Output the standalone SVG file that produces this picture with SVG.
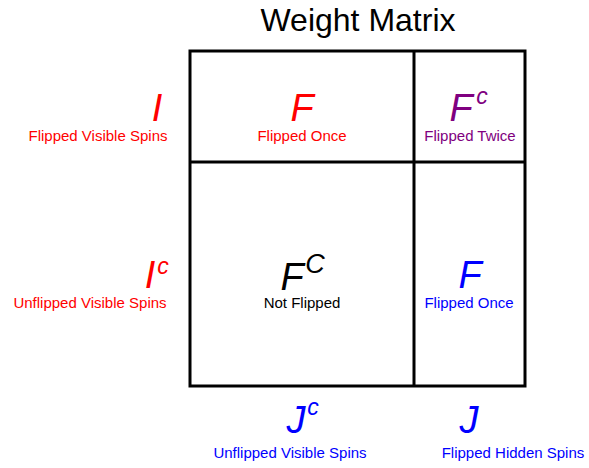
<svg xmlns="http://www.w3.org/2000/svg" width="589" height="468" viewBox="0 0 589 468">
<style>
text{font-family:"Liberation Sans",Arial,sans-serif;text-anchor:middle}
.big{font-size:38px;font-style:italic}
.sup{font-size:23px;font-style:italic}
.lbl{font-size:15px}
.r{fill:#ff0000}.b{fill:#0000ff}.p{fill:#800080}.k{fill:#000}
.grid{fill:none;stroke:#000;stroke-width:3}
</style>
<rect width="589" height="468" fill="#fff"/>
<text x="358" y="31" style="font-size:32px" class="k">Weight Matrix</text>
<g id="grid">
<rect class="grid" x="190" y="51" width="335" height="335"/>
<line class="grid" x1="414" y1="51" x2="414" y2="386"/>
<line class="grid" x1="190" y1="162" x2="525" y2="162"/>
</g>
<g id="rowI">
<text x="157" y="121" class="big r">I</text>
<text x="98" y="141" class="lbl r">Flipped Visible Spins</text>
</g>
<g id="rowIc">
<text x="150" y="288" class="big r">I</text>
<text x="163" y="274" class="sup r">c</text>
<text x="90" y="308" class="lbl r">Unflipped Visible Spins</text>
</g>
<g id="cellF1">
<text x="302" y="121" class="big r">F</text>
<text x="302" y="141" class="lbl r">Flipped Once</text>
</g>
<g id="cellF1c">
<text x="461" y="121" class="big p">F</text>
<text x="482" y="104" class="sup p">c</text>
<text x="470" y="141" class="lbl p">Flipped Twice</text>
</g>
<g id="cellFC">
<text x="292" y="290" class="big k">F</text>
<text x="315" y="273" class="sup k" style="font-size:27px">C</text>
<text x="302" y="308" class="lbl k">Not Flipped</text>
</g>
<g id="cellF2">
<text x="470" y="288" class="big b">F</text>
<text x="469" y="308" class="lbl b">Flipped Once</text>
</g>
<g id="colJc">
<text x="296" y="433" class="big b">J</text>
<text x="313" y="415" class="sup b">c</text>
<text x="290" y="458" class="lbl b">Unflipped Visible Spins</text>
</g>
<g id="colJ">
<text x="469" y="433" class="big b">J</text>
<text x="513" y="458" class="lbl b">Flipped Hidden Spins</text>
</g>
</svg>
